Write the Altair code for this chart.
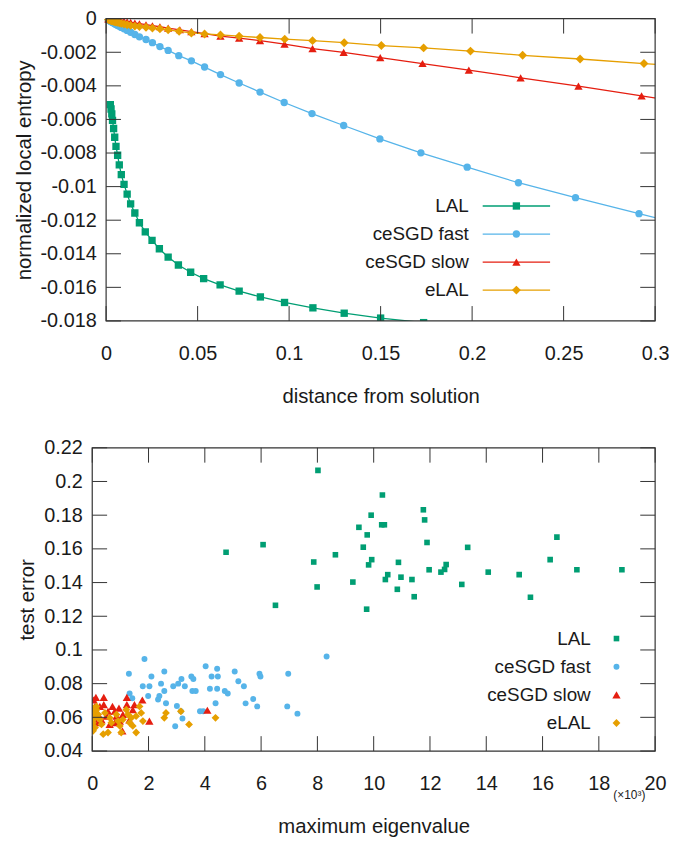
import altair as alt
import pandas as pd

FONT = "Liberation Sans"
FS_LAB = 20
FS_TIT = 20.5
FS_KEY = 19
TXT = "#1a1a1a"
FRAME = "#333333"

SERIES = ["LAL", "ceSGD fast", "ceSGD slow", "eLAL"]
COLORS = ["#009e73", "#56b4e9", "#e51e10", "#e69f00"]
SHAPES = ["square", "circle", "triangle-up", "diamond"]

# ---------------- top panel data: distance from solution vs normalized local entropy
lal_x = [0.0023, 0.0027, 0.0031, 0.0035, 0.0041, 0.0047, 0.0054, 0.0063, 0.0072, 0.0083,
         0.0098, 0.0115, 0.0134, 0.0157, 0.0182, 0.0214, 0.0251, 0.0291, 0.0339, 0.0395,
         0.0462, 0.0533, 0.0623, 0.0727, 0.0843, 0.0975, 0.1130, 0.1301, 0.1500, 0.1735, 0.1991]
lal_y = [-0.00512, -0.00538, -0.00567, -0.00606, -0.00654, -0.00706, -0.0076, -0.00813, -0.00871, -0.00929,
         -0.00987, -0.01045, -0.01103, -0.01157, -0.01215, -0.0127, -0.0132, -0.0137, -0.0142, -0.01467,
         -0.0151, -0.01548, -0.01585, -0.01622, -0.01657, -0.0169, -0.01722, -0.01754, -0.01783, -0.0181, -0.0184]

fast_x = [0.0012, 0.0017, 0.0023, 0.0027, 0.0031, 0.0035, 0.0041, 0.0047, 0.0054, 0.0063,
          0.0072, 0.0083, 0.0098, 0.0115, 0.0134, 0.0157, 0.0182, 0.0218, 0.0253, 0.0294,
          0.0339, 0.0397, 0.0466, 0.0538, 0.0625, 0.0727, 0.0841, 0.0973, 0.1125, 0.1298,
          0.1496, 0.1720, 0.1973, 0.2253, 0.2565, 0.2912, 0.3350]
fast_y = [-0.00008, -0.00011, -0.00015, -0.00017, -0.0002, -0.00022, -0.00026, -0.0003, -0.00034, -0.0004,
          -0.00045, -0.00052, -0.0006, -0.0007, -0.00081, -0.00094, -0.00108, -0.00124, -0.00143, -0.00166,
          -0.00189, -0.0022, -0.00251, -0.00288, -0.00333, -0.00383, -0.00437, -0.00499, -0.00565, -0.00636,
          -0.00716, -0.00799, -0.00884, -0.00977, -0.01066, -0.01161, -0.0128]

slow_x = [0.0012, 0.0017, 0.0023, 0.0027, 0.0031, 0.0035, 0.0041, 0.0047, 0.0054, 0.0063,
          0.0072, 0.0083, 0.0098, 0.0115, 0.0134, 0.0157, 0.0182, 0.0218, 0.0253, 0.0294,
          0.0339, 0.0403, 0.0466, 0.0538, 0.0625, 0.0727, 0.0841, 0.0975, 0.1128, 0.1298,
          0.1498, 0.1729, 0.1982, 0.2265, 0.2581, 0.2926, 0.3350]
slow_y = [-0.00002, -0.00003, -0.00004, -0.000045, -0.00005, -0.00006, -0.00007, -0.00008, -0.00009, -0.0001,
          -0.00012, -0.00014, -0.00016, -0.00019, -0.00022, -0.00026, -0.0003, -0.00036, -0.00042, -0.00048,
          -0.00056, -0.00066, -0.00077, -0.00089, -0.00104, -0.00116, -0.00131, -0.00151, -0.00178, -0.00201,
          -0.00232, -0.00267, -0.00306, -0.00352, -0.00402, -0.0046, -0.0053]

elal_x = [0.0012, 0.0017, 0.0023, 0.0027, 0.0031, 0.0035, 0.0041, 0.0047, 0.0054, 0.0063,
          0.0072, 0.0083, 0.0098, 0.0115, 0.0134, 0.0157, 0.0182, 0.0218, 0.0253, 0.0294,
          0.0339, 0.0399, 0.0466, 0.0538, 0.0625, 0.0727, 0.0841, 0.0976, 0.1128, 0.1301,
          0.1504, 0.1735, 0.1991, 0.2276, 0.2590, 0.2939, 0.3350]
elal_y = [-0.00005, -0.00007, -0.00009, -0.0001, -0.00012, -0.00013, -0.00015, -0.00017, -0.0002, -0.00022,
          -0.00025, -0.00028, -0.00032, -0.00036, -0.0004, -0.00044, -0.00047, -0.00051, -0.00056, -0.0006,
          -0.00066, -0.00075, -0.00085, -0.00091, -0.00097, -0.00104, -0.00112, -0.00122, -0.00131, -0.00143,
          -0.0016, -0.00174, -0.00193, -0.00218, -0.0024, -0.00267, -0.003]

top_xticks = [0, 0.05, 0.1, 0.15, 0.2, 0.25, 0.3]
top_yticks = [-0.018, -0.016, -0.014, -0.012, -0.01, -0.008, -0.006, -0.004, -0.002, 0]

# ---------------- bottom panel data: maximum eigenvalue (x1e3) vs test error
lal_ev = [4.755, 6.07, 6.51, 7.87, 7.99, 8.02, 8.64, 9.26, 9.475, 9.63, 9.75, 9.77, 9.82, 9.93, 9.91,
          10.285, 10.38, 10.31, 10.415, 10.5, 10.84, 10.88, 10.97, 11.36, 11.44, 11.765, 11.81, 11.895,
          11.97, 12.39, 12.52, 12.575, 13.13, 13.34, 14.07, 15.17, 15.57, 16.27, 16.51, 17.22, 18.82]
lal_err = [0.158, 0.1625, 0.1265, 0.1522, 0.1374, 0.2066, 0.1565, 0.1403, 0.1728, 0.161, 0.1242, 0.1683,
           0.1505, 0.1536, 0.18, 0.1743, 0.1743, 0.192, 0.1418, 0.1447, 0.136, 0.152, 0.1432, 0.1418,
           0.1316, 0.1832, 0.1772, 0.1638, 0.1476, 0.1462, 0.1478, 0.1507, 0.1389, 0.1609, 0.1462,
           0.1447, 0.1313, 0.1536, 0.167, 0.1476, 0.1476]

fast_ev = [1.856, 1.303, 2.103, 2.561, 1.796, 2.032, 2.445, 2.561, 2.878, 3.054, 3.17, 3.29, 3.522,
           3.593, 3.558, 3.677, 4.03, 4.438, 4.241, 4.463, 4.181, 4.438, 1.328, 1.423, 1.987, 2.385,
           2.339, 2.621, 3.008, 3.149, 3.829, 3.945, 3.205, 4.382, 2.948, 8.327, 5.062, 5.942, 5.977,
           6.964, 5.192, 5.389, 4.709, 4.815, 5.449, 5.72, 5.861, 6.929, 7.291]
fast_err = [0.0946, 0.0859, 0.0843, 0.0872, 0.0785, 0.0785, 0.08, 0.0756, 0.0785, 0.08, 0.0828, 0.0785,
            0.0843, 0.0828, 0.0756, 0.0756, 0.0903, 0.0888, 0.0843, 0.0843, 0.077, 0.077, 0.0742, 0.0713,
            0.0727, 0.0727, 0.0706, 0.0684, 0.0667, 0.0636, 0.0636, 0.0636, 0.0593, 0.0684, 0.0547,
            0.0961, 0.0872, 0.0859, 0.0843, 0.0859, 0.0814, 0.0785, 0.0756, 0.0741, 0.0683, 0.0709,
            0.0665, 0.0665, 0.0622]

slow_ev = [0.13, 0.41, 1.23, 1.78, 0.41, 0.72, 1.23, 1.50, 0.10, 0.80, 1.09, 0.21, 0.51, 0.86, 2.03,
           0.80, 0.98, 0.15, 1.07, 4.09, 0.62, 0.05, 1.44, 0.27, 0.56, 0.33, 1.32, 0.95]
slow_err = [0.0719, 0.0719, 0.0719, 0.0703, 0.0675, 0.0665, 0.0675, 0.0675, 0.0665, 0.0636, 0.0617,
            0.0617, 0.0607, 0.0607, 0.0578, 0.0568, 0.0578, 0.0568, 0.052, 0.0642, 0.0558, 0.0703,
            0.0645, 0.0665, 0.0636, 0.0585, 0.0585, 0.0655]

elal_ev = [0.03, 0.04, 0.10, 0.15, 0.21, 0.02, 0.10, 0.27, 0.33, 0.03, 0.15, 0.39, 0.56, 0.68, 0.86,
           0.92, 0.98, 1.03, 1.09, 1.27, 1.33, 1.39, 1.44, 1.56, 1.68, 1.74, 1.80, 2.62, 2.56, 3.15,
           3.44, 4.38, 1.21, 1.56, 0.62, 0.45]
elal_err = [0.0655, 0.0626, 0.0597, 0.0645, 0.0617, 0.0568, 0.0539, 0.0587, 0.0558, 0.052, 0.0665,
            0.05, 0.051, 0.0568, 0.0617, 0.0578, 0.0549, 0.051, 0.0587, 0.0617, 0.0568, 0.0597, 0.0549,
            0.051, 0.0665, 0.0626, 0.0578, 0.0626, 0.0597, 0.0636, 0.0558, 0.0597, 0.0645, 0.0607,
            0.0597, 0.0626]

bot_xticks = [0, 2, 4, 6, 8, 10, 12, 14, 16, 18, 20]
bot_yticks = [0.04, 0.06, 0.08, 0.1, 0.12, 0.14, 0.16, 0.18, 0.2, 0.22]

# ---------------- layout constants (both panels share a 568px wide group;
# the upper frame starts 14px further right)
W = 568
H_TOP, H_BOT = 305, 306
TICK = 15
LABEL_EXPR = "replace(format(datum.value, '~g'), '\u2212', '-')"


def axis(ticks, title, lp, tp, offset=0):
    return alt.Axis(values=ticks, title=title, labelExpr=LABEL_EXPR, tickSize=0, domain=False,
                    grid=False, labelPadding=lp, titlePadding=tp, labelFont=FONT, titleFont=FONT,
                    labelFontSize=FS_LAB, titleFontSize=FS_TIT, titleFontWeight="normal",
                    labelColor=TXT, titleColor=TXT, labelFlush=False, labelOverlap=False,
                    offset=offset)


def make_panel(series_xy, xdom, ydom, xticks, yticks, xtitle, ytitle, left, H,
               with_lines, sizes, legend):
    X = lambda: alt.X("x:Q", scale=alt.Scale(domain=xdom, nice=False, zero=False, range=[left, W]),
                      axis=axis(xticks, xtitle, 22.5, 24))
    Y = lambda: alt.Y("y:Q", scale=alt.Scale(domain=ydom, nice=False, zero=False),
                      axis=axis(yticks, ytitle, 10, 6, -left))
    layers = []
    for (xs, ys), color, shape, size in zip(series_xy, COLORS, SHAPES, sizes):
        df = pd.DataFrame({"x": xs, "y": ys})
        if with_lines:
            layers.append(alt.Chart(df).mark_line(color=color, strokeWidth=1.3, clip=True)
                          .encode(x=X(), y=Y()))
        layers.append(alt.Chart(df).mark_point(shape=shape, filled=True, size=size, color=color,
                                               opacity=1, clip=True)
                      .encode(x=X(), y=Y()))
    # frame
    one = pd.DataFrame({"k": [0]})
    layers.append(alt.Chart(one).mark_rect(fill="transparent", stroke=FRAME, strokeWidth=1.2)
                  .encode(x=alt.value(left), x2=alt.value(W), y=alt.value(0), y2=alt.value(H)))
    # inward ticks on all four sides
    dfx = pd.DataFrame({"x": xticks})
    dfy = pd.DataFrame({"y": yticks})
    tick = dict(color=FRAME, strokeWidth=1)
    layers.append(alt.Chart(dfx).mark_rule(**tick).encode(x=X(), y=alt.value(H - TICK), y2=alt.value(H)))
    layers.append(alt.Chart(dfx).mark_rule(**tick).encode(x=X(), y=alt.value(0), y2=alt.value(TICK)))
    layers.append(alt.Chart(dfy).mark_rule(**tick).encode(y=Y(), x=alt.value(left), x2=alt.value(left + TICK)))
    layers.append(alt.Chart(dfy).mark_rule(**tick).encode(y=Y(), x=alt.value(W - TICK), x2=alt.value(W)))
    # key (labels right-aligned, sample to the right)
    tx, lx0, lx1, mx, y0, dy = legend
    for i, (name, color, shape, size) in enumerate(zip(SERIES, COLORS, SHAPES, sizes)):
        ly = y0 + i * dy
        lab = pd.DataFrame({"label": [name]})
        layers.append(alt.Chart(lab).mark_text(align="right", baseline="middle", font=FONT,
                                               fontSize=FS_KEY, color=TXT)
                      .encode(text="label:N", x=alt.value(tx), y=alt.value(ly)))
        if with_lines:
            layers.append(alt.Chart(lab).mark_rule(color=color, strokeWidth=1.3)
                          .encode(x=alt.value(lx0), x2=alt.value(lx1), y=alt.value(ly)))
        layers.append(alt.Chart(lab).mark_point(shape=shape, filled=True, size=size, color=color,
                                                opacity=1)
                      .encode(x=alt.value(mx), y=alt.value(ly)))
    return layers


top_layers = make_panel(
    [(lal_x, lal_y), (fast_x, fast_y), (slow_x, slow_y), (elal_x, elal_y)],
    [0, 0.3], [-0.018, 0], top_xticks, top_yticks,
    "distance from solution", "normalized local entropy", 14, H_TOP,
    True, [55, 55, 70, 80],
    (380, 394, 462, 428, 189, 28.3))
top = alt.layer(*top_layers).properties(width=W, height=H_TOP)

bot_layers = make_panel(
    [(lal_ev, lal_err), (fast_ev, fast_err), (slow_ev, slow_err), (elal_ev, elal_err)],
    [0, 20], [0.04, 0.22], bot_xticks, bot_yticks,
    "maximum eigenvalue", "test error", 0, H_BOT,
    False, [32, 36, 70, 62],
    (503, 0, 0, 529, 192.5, 28.4))
note = alt.Chart(pd.DataFrame({"t": ["(\u00d710\u00b3)"]})).mark_text(
    align="center", baseline="middle", font=FONT, fontSize=12, color=TXT
).encode(text="t:N", x=alt.value(W - 26), y=alt.value(H_BOT + 44))
bottom = alt.layer(*bot_layers, note).properties(width=W, height=H_BOT)

chart = alt.vconcat(top, bottom, spacing=31).properties(
    padding={"left": 6, "top": -3, "right": 0, "bottom": 0},
    background="white",
).configure_view(stroke=None)

chart.save("out.html", embed_options={"renderer": "svg", "actions": False})
